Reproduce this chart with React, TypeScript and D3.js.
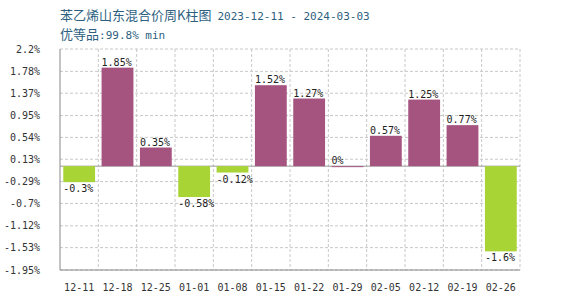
import React from "react";
import * as d3 from "d3";

const categories = ["12-11","12-18","12-25","01-01","01-08","01-15","01-22","01-29","02-05","02-12","02-19","02-26"];
const values = [-0.3, 1.85, 0.35, -0.58, -0.12, 1.52, 1.27, 0, 0.57, 1.25, 0.77, -1.6];
const valueLabels = ["-0.3%","1.85%","0.35%","-0.58%","-0.12%","1.52%","1.27%","0%","0.57%","1.25%","0.77%","-1.6%"];
const yTicks = [2.2, 1.78, 1.37, 0.95, 0.54, 0.13, -0.29, -0.7, -1.12, -1.53, -1.95];
const titleMain = "苯乙烯山东混合价周K柱图";
const titleDate = "2023-12-11 - 2024-03-03";
const subtitleCn = "优等品";
const subtitleRest = ":99.8% min";

const W = 570, H = 300;
const left = 60, right = 520, top = 49, bottom = 270;
const POS = "#A5537F", NEG = "#A8D436";
const MONO = "'DejaVu Sans Mono', 'Liberation Mono', monospace";
const CJK = "'Noto Sans CJK SC', sans-serif";

export default function App() {
  const x = d3.scaleBand<string>().domain(categories).range([left, right]).paddingInner(0.17).paddingOuter(0.085);
  const xb = d3.scaleBand<string>().domain(categories).range([left, right]);
  const y = d3.scaleLinear().domain([-1.95, 2.2]).range([bottom, top]);
  const y0 = y(0);
  return (
    <svg width={W} height={H} style={{ position: "absolute", left: 0, top: 0, background: "#fff" }}>
      <text x={60} y={20} fill="#2E5F7F" fontSize={13}>
        <tspan fontFamily={CJK}>{titleMain}</tspan>
        <tspan fontFamily={MONO} fontSize={11} dx={6}>{titleDate}</tspan>
      </text>
      <text x={60} y={39} fill="#2E5F7F" fontSize={13}>
        <tspan fontFamily={CJK}>{subtitleCn}</tspan>
        <tspan fontFamily={MONO} fontSize={11}>{subtitleRest}</tspan>
      </text>
      {yTicks.map((t, i) => (
        <g key={"y" + i}>
          <line x1={left} x2={right} y1={y(t)} y2={y(t)} stroke="#c8c8c8" strokeDasharray="3,2" />
          <text x={40} y={y(t) + 3.5} textAnchor="end" fontFamily={MONO} fontSize={10} fill="#333">{t + "%"}</text>
        </g>
      ))}
      {categories.map((c, i) => (
        <line key={"v" + i} x1={(xb(c) as number) + xb.bandwidth()} x2={(xb(c) as number) + xb.bandwidth()} y1={top} y2={bottom} stroke="#c8c8c8" strokeDasharray="3,2" />
      ))}
      <line x1={left} x2={right} y1={y0} y2={y0} stroke="#999" />
      {values.map((v, i) => {
        const bx = x(categories[i]) as number;
        const y1 = Math.min(y(v), y0), y2 = Math.max(y(v), y0);
        return (
          <g key={"b" + i}>
            <rect x={bx} y={y1} width={x.bandwidth()} height={Math.max(y2 - y1, 1)} fill={v >= 0 ? POS : NEG} />
            <text x={bx} y={v >= 0 ? y1 - 2 : y2 + 10} fontFamily={MONO} fontSize={10} fill="#222">{valueLabels[i]}</text>
          </g>
        );
      })}
      <line x1={left} x2={left} y1={top} y2={bottom} stroke="#888" />
      <line x1={left} x2={right} y1={bottom} y2={bottom} stroke="#888" />
      {categories.map((c, i) => (
        <text key={"x" + i} x={(xb(c) as number) + xb.bandwidth() / 2} y={291} textAnchor="middle" fontFamily={MONO} fontSize={10} fill="#333">{c}</text>
      ))}
    </svg>
  );
}
